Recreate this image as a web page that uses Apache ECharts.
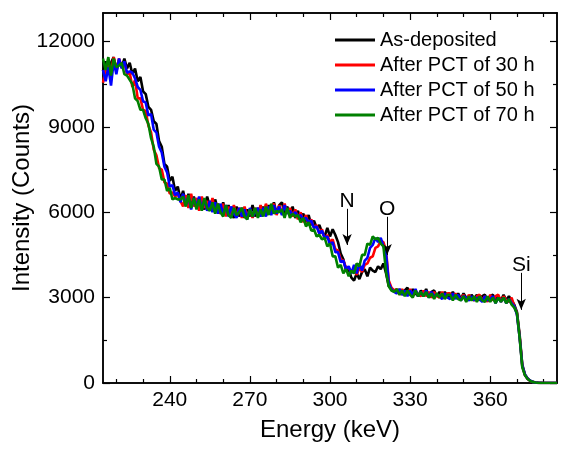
<!DOCTYPE html>
<html>
<head>
<meta charset="utf-8">
<script src="https://cdn.jsdelivr.net/npm/echarts@6/dist/echarts.min.js"></script>
<style>html,body{margin:0;padding:0;background:#fff}#c{width:566px;height:455px}</style>
</head>
<body>
<div id="c"></div>
<script>
// Energy channels (keV), 215..385 step 1
const energies = [];
for (let e = 215; e <= 385; e++) energies.push(e);

const seriesNames = ['As-deposited', 'After PCT of 30 h', 'After PCT of 50 h', 'After PCT of 70 h'];

const asDeposited = [
 10950,11300,10900,11250,11450,10950,11350,11100,11400,11050,
 11250,10850,11050,10600,10750,10250,10150,9700,9600,9200,
 9100,8500,8300,7700,7600,7100,7250,6750,6900,6450,
 6750,6300,6650,6200,6550,6150,6500,6300,6100,6550,
 6200,6050,6450,6100,5950,6350,5900,6250,5950,5800,
 6200,5850,6150,5800,6100,5850,6250,5850,6150,5900,
 6200,5900,6250,5950,6350,5950,6250,6350,5950,6200,
 5900,6200,5800,6050,5750,5950,5650,5900,5550,5700,
 5450,5550,5300,5150,5450,5150,5400,5200,4950,4550,
 4350,3950,4000,3700,3600,3850,3650,3900,4000,3750,
 4050,3950,3900,4100,4000,4200,3850,3400,3300,3250,
 3150,3300,3100,3250,3350,3100,3300,3150,3050,3250,
 3100,3300,3050,3200,3250,3050,3200,3000,3200,3050,
 3000,3200,3000,3150,2950,3150,3000,2900,3100,2950,
 3100,2900,3050,3100,2900,3050,3100,2900,3050,2900,
 3100,2900,3050,2900,2750,2500,1700,650,300,160,
 80,40,20,10,5,0,0,0,0,0,0
];
const pct30 = [
 10550,11000,11250,10950,11450,11000,11400,11100,11250,10850,
 10900,10400,10650,10000,10000,9600,9550,9050,8800,8200,
 8000,7550,7500,7050,7000,6650,6700,6550,6650,6400,
 6200,6600,6150,6650,6200,6500,6050,6550,6150,6400,
 6100,6500,6000,6300,5950,6300,5850,6200,5900,6250,
 5850,6150,5800,6200,5850,6100,5800,6150,5850,6250,
 5900,6300,5950,6200,6300,5900,6250,5950,6300,5950,
 6150,5850,6100,5750,6000,5650,5900,5550,5750,5450,
 5550,5250,5400,5050,5200,4950,5050,4700,4650,4350,
 4300,4050,4050,3900,3950,3800,4050,3900,4150,4200,
 4400,4450,4750,4800,5000,4950,4650,3600,3350,3250,
 3300,3100,3300,3150,3100,3300,3050,3250,3100,3050,
 3250,3050,3200,3000,3200,3050,3000,3200,3000,3150,
 3150,2950,3150,3000,2950,3100,2900,3100,2950,2900,
 3050,3100,2900,3050,2850,3100,2900,3050,3100,2850,
 3050,2900,2850,3000,2700,2450,1650,600,280,140,
 70,30,15,5,0,0,0,0,0,0,0
];
const pct50 = [
 11000,10600,11100,10450,11300,10850,11400,11050,11300,10900,
 10950,10900,10700,10400,10300,9900,9850,9400,9450,8900,
 8800,8300,8100,7600,7400,6900,6950,6600,6700,6350,
 6650,6250,6550,6100,6500,6200,6550,6100,6450,6050,
 6400,6000,6350,5950,6300,5900,6250,5850,6200,5950,
 5800,6150,5850,6100,5750,6150,5850,6000,6150,5850,
 6150,5850,6200,5900,6250,5950,6200,5900,6250,5950,
 6050,5900,6000,5850,5900,5750,5800,5650,5700,5450,
 5500,5250,5350,5100,5150,4850,4950,4600,4600,4250,
 4300,4000,4100,3850,4150,3850,4200,3950,4300,4400,
 4750,4850,5100,4950,5100,4800,4550,3500,3300,3200,
 3150,3300,3100,3250,3050,3250,3100,3300,3050,3200,
 3050,3250,3000,3200,3050,3100,3050,2950,3150,3000,
 2950,3150,2950,3100,2900,3050,3000,2900,3050,2900,
 3000,2950,2850,3050,2900,2950,3050,2800,3000,2850,
 3000,2800,2950,2800,2700,2400,1600,600,290,150,
 80,30,15,5,0,0,0,0,0,0,0
];
const pct70 = [
 11400,11000,11450,10800,11400,11100,11150,11250,10850,10800,
 10650,10500,10000,9900,9600,9600,9300,9100,8600,8300,
 7700,7600,7150,7150,6750,6850,6450,6500,6450,6450,
 6550,6200,6600,6150,6500,6100,6450,6050,6500,6150,
 6050,6350,5950,6300,6000,5850,6250,5900,5800,6150,
 5900,6000,6150,5850,5750,6100,5850,6150,5800,6100,
 5850,6200,5900,6300,5950,6050,6000,6100,5800,6150,
 5800,5950,5850,5900,5650,5800,5500,5650,5350,5400,
 5150,5200,5050,5100,4800,4900,4450,4450,4050,4150,
 3850,4000,3750,3950,3850,4200,4100,4500,4500,4900,
 4850,5150,5050,5100,4900,4800,3900,3400,3250,3200,
 3300,3100,3250,3050,3250,3100,3000,3250,3050,3200,
 3050,3200,3000,3150,2950,3150,3000,3150,2950,3100,
 3100,2900,3100,2950,2900,3050,2850,3050,2900,3050,
 2850,3050,2900,2850,3050,2850,3000,2800,3000,2850,
 3000,2800,2950,2750,2650,2450,1600,550,270,140,
 70,30,15,5,0,0,0,0,0,0,0
];

const xMajorTicks = [240, 270, 300, 330, 360];
const xMinorTicks = [220, 230, 250, 260, 280, 290, 310, 320, 340, 350, 370, 380];
const yMajorTicks = [0, 3000, 6000, 9000, 12000];
const yMinorTicks = [1500, 4500, 7500, 10500];

// annotations: label, energy, arrow start, arrow end (counts)
const annotations = [
  ['N', 306.4, 6120, 4850],
  ['O', 321.4, 5840, 4500],
  ['Si', 371.6, 3870, 2570]
];

const colors = ['#000000', '#ff0000', '#0000ff', '#008000'];
const allData = [asDeposited, pct30, pct50, pct70];

const FONT = 'Liberation Sans, Arial, sans-serif';
const X_MIN = 215, X_MAX = 385, Y_MIN = 0, Y_MAX = 13000;
const axisLine = { show: true, onZero: false, lineStyle: { color: '#000', width: 1.5 } };

function xAx(pos, ticks, len, labels, name) {
  return {
    type: 'value', position: pos, min: X_MIN, max: X_MAX,
    axisLine: axisLine,
    axisTick: { show: true, inside: true, length: len, customValues: ticks, lineStyle: { color: '#000', width: 1.2 } },
    axisLabel: labels ? { show: true, customValues: ticks, color: '#000', fontSize: 21, fontFamily: FONT, margin: 7, formatter: v => String(v) } : { show: false },
    splitLine: { show: false },
    name: name || '', nameLocation: 'middle', nameGap: 35, nameMoveOverlap: false,
    nameTextStyle: { fontSize: 24, color: '#000', fontFamily: FONT }
  };
}
function yAx(pos, ticks, len, labels, name) {
  return {
    type: 'value', position: pos, min: Y_MIN, max: Y_MAX,
    axisLine: axisLine,
    axisTick: { show: true, inside: true, length: len, customValues: ticks, lineStyle: { color: '#000', width: 1.2 } },
    axisLabel: labels ? { show: true, customValues: ticks, color: '#000', fontSize: 21, fontFamily: FONT, margin: 8, formatter: v => String(v) } : { show: false },
    splitLine: { show: false },
    name: name || '', nameLocation: 'middle', nameGap: 69, nameRotate: 90, nameMoveOverlap: false,
    nameTextStyle: { fontSize: 24, color: '#000', fontFamily: FONT }
  };
}

const series = seriesNames.map((n, k) => ({
  name: n, type: 'line', xAxisIndex: 0, yAxisIndex: 0,
  data: energies.map((e, i) => [e, allData[k][i]]),
  showSymbol: false, symbol: 'none',
  lineStyle: { color: colors[k], width: 2.6 },
  itemStyle: { color: colors[k] },
  z: 2 + k
}));

series.push({
  name: 'annot', type: 'line', xAxisIndex: 0, yAxisIndex: 0, data: [], z: 10,
  markLine: {
    silent: true, animation: false,
    symbol: ['none', 'arrow'], symbolSize: [7, 11],
    lineStyle: { color: '#000', width: 1, type: 'solid' },
    label: { show: true, position: 'start', color: '#000', fontSize: 21, fontFamily: FONT, distance: -3 },
    data: annotations.map(a => [
      { coord: [a[1], a[2]], label: { formatter: a[0] } },
      { coord: [a[1], a[3]] }
    ])
  }
});

const chart = echarts.init(document.getElementById('c'), null, { renderer: 'canvas' });
chart.setOption({
  animation: false,
  backgroundColor: '#fff',
  textStyle: { fontFamily: FONT },
  grid: { left: 103, right: 9, top: 13, bottom: 72, containLabel: false, outerBoundsMode: 'none' },
  legend: {
    data: seriesNames, orient: 'vertical', left: 330, top: 25,
    icon: 'rect', itemWidth: 40, itemHeight: 3, itemGap: 5,
    textStyle: { fontSize: 20, color: '#000', fontFamily: FONT, lineHeight: 20 }
  },
  xAxis: [
    xAx('bottom', xMajorTicks, 7, true, 'Energy (keV)'),
    xAx('bottom', xMinorTicks, 4, false),
    xAx('top', xMajorTicks, 7, false),
    xAx('top', xMinorTicks, 4, false)
  ],
  yAxis: [
    yAx('left', yMajorTicks, 7, true, 'Intensity (Counts)'),
    yAx('left', yMinorTicks, 4, false),
    yAx('right', yMajorTicks, 7, false),
    yAx('right', yMinorTicks, 4, false)
  ],
  series: series
});
</script>
</body>
</html>
